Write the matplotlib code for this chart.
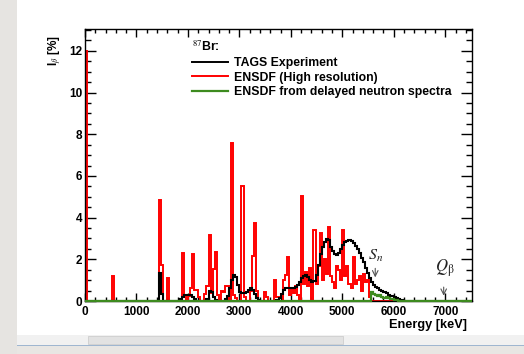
import numpy as np
import matplotlib
matplotlib.use("Agg")
import matplotlib.pyplot as plt
from matplotlib.lines import Line2D
from matplotlib.patches import Rectangle

plt.rcParams['font.family'] = ['Liberation Sans', 'DejaVu Sans']
plt.rcParams['mathtext.fontset'] = 'stix'

# ---------------- data ----------------
bin_width = 40  # keV
x_max = 7520

# ENSDF (high resolution) beta intensities [%]
ensdf_E = [0, 520, 1440, 1480, 1600, 1880, 1920, 2000, 2040, 2080, 2120, 2160, 2200,
           2320, 2360, 2400, 2440, 2480, 2520, 2560, 2640, 2680, 2720, 2760, 2840, 2880,
           2920, 3040, 3080, 3200, 3240, 3280, 3320, 3480, 3520, 3680, 3720, 3840, 3880,
           3920, 3960, 4000, 4040, 4080, 4120, 4200, 4240, 4280, 4320, 4360, 4440, 4480,
           4520, 4560, 4600, 4640, 4680, 4720, 4760, 4800, 4840, 4880, 4920, 4960, 5000,
           5040, 5080, 5120, 5160, 5200, 5240, 5280, 5320, 5360, 5400, 5440, 5480, 5520]
ensdf_I = [12.0, 1.2, 4.84, 1.73, 1.12, 2.3, 0.3, 0.25, 0.6, 2.25, 0.55, 0.55, 0.2,
           0.35, 0.7, 3.16, 0.4, 1.53, 2.37, 0.3, 0.5, 0.45, 0.7, 0.7, 7.6, 0.3,
           0.15, 5.5, 0.2, 0.5, 2.16, 3.73, 0.5, 0.45, 0.2, 1.0, 0.2, 1.0, 1.25,
           2.1, 0.3, 0.6, 0.4, 0.7, 0.3, 5.05, 0.8, 1.4, 0.7, 1.6, 3.4, 0.8,
           1.7, 3.26, 1.0, 2.0, 1.3, 3.56, 1.2, 0.9, 0.6, 1.7, 1.5, 1.0, 3.4,
           1.2, 1.7, 0.8, 0.6, 2.12, 0.8, 1.0, 1.2, 0.5, 1.3, 0.9, 1.0, 0.2]

# TAGS experiment beta intensities [%]
tags_E = [1440, 1480, 1840, 1880, 1920, 1960, 2000, 2040, 2080, 2120,
          2360, 2400, 2440, 2480, 2520,
          2720, 2760, 2800, 2840, 2880, 2920, 2960, 3000, 3040, 3080, 3120, 3160, 3200,
          3240, 3280, 3320, 3360,
          3720, 3760, 3800, 3840, 3880, 3920, 3960, 4000, 4040, 4080, 4120, 4160, 4200,
          4240, 4280, 4320, 4360, 4400, 4440, 4480, 4520, 4560, 4600, 4640, 4680, 4720,
          4760, 4800, 4840, 4880, 4920, 4960, 5000, 5040, 5080, 5120, 5160, 5200, 5240,
          5280, 5320, 5360, 5400, 5440, 5480, 5520, 5560, 5600, 5640, 5680, 5720, 5760,
          5800, 5840, 5880, 5920, 5960, 6000, 6040, 6080, 6120, 6160]
tags_I = [1.36, 0.35, 0.1, 0.2, 0.28, 0.3, 0.3, 0.27, 0.2, 0.08,
          0.1, 0.48, 0.45, 0.2, 0.05,
          0.1, 0.25, 0.6, 1.0, 1.25, 1.15, 0.75, 0.45, 0.37, 0.4, 0.45, 0.55, 0.6,
          0.55, 0.35, 0.15, 0.05,
          0.05, 0.15, 0.35, 0.55, 0.6, 0.6, 0.62, 0.62, 0.62, 0.68, 0.78, 0.92, 1.08,
          1.22, 1.26, 1.15, 1.02, 0.93, 0.97, 1.25, 1.75, 2.25, 2.6, 2.85, 2.97, 2.92,
          2.6, 2.4, 2.25, 2.2, 2.3, 2.5, 2.7, 2.82, 2.9, 2.93, 2.88, 2.78, 2.65,
          2.5, 2.3, 2.05, 1.85, 1.6, 1.35, 1.1, 0.92, 0.78, 0.68, 0.6, 0.53, 0.47,
          0.42, 0.36, 0.3, 0.26, 0.22, 0.18, 0.14, 0.1, 0.06, 0.03]

# ENSDF from delayed neutron spectra [%]
dn_E = [5560, 5600, 5640, 5680, 5720, 5760, 5800, 5840, 5880, 5920, 5960, 6000, 6040]
dn_I = [0.45, 0.35, 0.3, 0.25, 0.3, 0.2, 0.15, 0.2, 0.12, 0.1, 0.08, 0.05, 0.03]

S_n = 5640     # keV, position of arrow as drawn
Q_beta = 6970  # keV

x_ticks = [0, 1000, 2000, 3000, 4000, 5000, 6000, 7000]
y_ticks = [0, 2, 4, 6, 8, 10, 12]

# ---------------- build histograms ----------------
edges = np.arange(0, x_max + bin_width, bin_width)
nb = len(edges) - 1

def to_hist(E, I):
    h = np.zeros(nb)
    for e, v in zip(E, I):
        h[int(e // bin_width)] = v
    return h

h_ensdf = to_hist(ensdf_E, ensdf_I)
h_tags = to_hist(tags_E, tags_I)
h_dn = to_hist(dn_E, dn_I)

# ---------------- figure ----------------
W, H = 524, 354
fig = plt.figure(figsize=(W / 100, H / 100), dpi=100)
fig.patch.set_facecolor('white')

# window chrome (ROOT canvas screenshot)
fig.patches.append(Rectangle((0, 0), 17 / W, 1, transform=fig.transFigure,
                             facecolor='#e6e4e1', edgecolor='none', zorder=0))
fig.patches.append(Rectangle((17 / W, 0), 1, 19 / H, transform=fig.transFigure,
                             facecolor='#e8e6e3', edgecolor='none', zorder=0))
fig.patches.append(Rectangle((17 / W, 9 / H), 1, 10 / H, transform=fig.transFigure,
                             facecolor='#f1f1f1', edgecolor='none', zorder=0))
fig.patches.append(Rectangle((88 / W, 10 / H), 255 / W, 8 / H, transform=fig.transFigure,
                             facecolor='#e2e2e2', edgecolor='#c8c8c8', lw=0.5, zorder=0))
fig.patches.append(Rectangle((17 / W, 8 / H), 1, 1.5 / H, transform=fig.transFigure,
                             facecolor='#9fb6d0', edgecolor='none', zorder=0))

ax = fig.add_axes([85 / W, 1 - 301 / H, 387 / W, 272 / H])
ax.set_facecolor('white')

ax.stairs(h_ensdf, edges, color='#ff0000', lw=1.4, zorder=2)
ax.stairs(h_tags, edges, color='black', lw=1.5, zorder=3)
ax.stairs(h_dn, edges, color='#3d8b1f', lw=1.6, zorder=4, clip_on=False)

ax.set_xlim(0, x_max)
ax.set_ylim(0, 13.05)

ax.set_xticks(x_ticks)
ax.set_xticks(np.arange(0, x_max + 1, 200), minor=True)
ax.set_yticks(y_ticks)
ax.set_yticks(np.arange(0, 13.01, 0.5), minor=True)

for s in ax.spines.values():
    s.set_linewidth(1.0)

ax.tick_params(axis='both', which='both', direction='in', top=True, right=True,
               width=1.0, labelsize=8.5)
ax.tick_params(axis='x', which='major', length=6, pad=3.5)
ax.tick_params(axis='x', which='minor', length=3)
ax.tick_params(axis='y', which='major', length=8, pad=2)
ax.tick_params(axis='y', which='minor', length=4.3)
for lab in ax.get_xticklabels() + ax.get_yticklabels():
    lab.set_fontweight('bold')

ax.set_xlabel('Energy [keV]', fontsize=9.2, fontweight='bold', loc='right')
ax.xaxis.set_label_coords(0.987, -0.066)
ax.set_ylabel(r'I$_{\beta}$ [%]', fontsize=8.5, fontweight='bold', loc='top')
ax.yaxis.set_label_coords(-0.058, 0.978)

# annotations
ax.annotate('', xy=(S_n, 1.0), xytext=(S_n, 1.7),
            arrowprops=dict(arrowstyle='->', color='#555555', lw=0.8))
ax.text(S_n, 2.15, r'$S_n$', fontsize=11.5, ha='center', va='center', color='#222222')
ax.annotate('', xy=(Q_beta, 0.12), xytext=(Q_beta, 0.8),
            arrowprops=dict(arrowstyle='->', color='#555555', lw=0.8))
ax.text(Q_beta + 20, 1.55, r'$Q_{\mathrm{\beta}}$', fontsize=12, ha='center',
        va='center', color='#222222')

handles = [Line2D([], [], color='black', lw=1.4),
           Line2D([], [], color='#ff0000', lw=1.4),
           Line2D([], [], color='#3d8b1f', lw=1.6)]
labels = ['TAGS Experiment', 'ENSDF (High resolution)', 'ENSDF from delayed neutron spectra']
leg = ax.legend(handles, labels, title=r'$^{87}$Br:', loc='upper left',
                bbox_to_anchor=(0.277, 0.96), borderaxespad=0, borderpad=0,
                frameon=False, alignment='left', handlelength=2.9, handletextpad=0.55,
                labelspacing=0.22, prop={'weight': 'bold', 'size': 8.8},
                title_fontproperties={'weight': 'bold', 'size': 8.8})
leg._legend_box.sep = 2

fig.savefig('out.png', dpi=100, facecolor=fig.get_facecolor())
